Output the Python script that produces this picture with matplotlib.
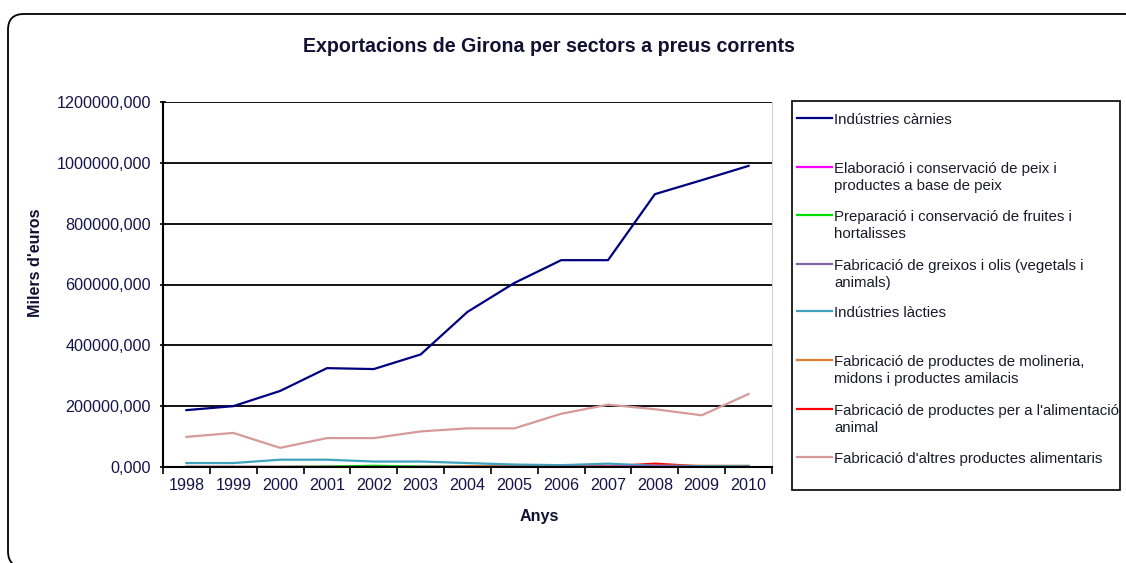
import matplotlib

matplotlib.use("Agg")
import matplotlib.pyplot as plt
from matplotlib.lines import Line2D
from matplotlib.patches import FancyBboxPatch, Rectangle
from matplotlib.ticker import FuncFormatter, FixedLocator

plt.rcParams["font.family"] = ["Liberation Sans", "DejaVu Sans"]

years = ["1998", "1999", "2000", "2001", "2002", "2003", "2004",
         "2005", "2006", "2007", "2008", "2009", "2010"]

carnies = [187000, 200000, 250000, 325000, 322000, 370000, 510000,
           605000, 680000, 680000, 897000, 943000, 990000]
peix = [0, 0, 0, 0, 0, 0, 0, 0, 0, 1000, 1000, 0, 0]
fruites = [0, 0, 0, 1500, 4000, 1500, 0, 0, 0, 0, 0, 0, 0]
greixos = [0, 0, 0, 0, 0, 0, 0, 0, 0, 0, 0, 0, 0]
lactics = [13000, 13000, 24000, 24000, 18000, 18000, 13000,
           8000, 6000, 11000, 4000, 3000, 3000]
molineria = [0, 0, 0, 0, 0, 0, 3000, 4000, 4000, 4000, 4000, 4000, 4000]
animal = [0, 0, 0, 0, 0, 0, 0, 0, 1000, 2000, 11000, 2000, 1000]
altres = [99000, 112000, 63000, 95000, 95000, 117000, 127000,
          127000, 175000, 205000, 190000, 170000, 240000]

series = [
    ("Indústries càrnies", carnies, "#000080"),
    ("Elaboració i conservació de peix i\nproductes a base de peix", peix, "#ff00ff"),
    ("Preparació i conservació de fruites i\nhortalisses", fruites, "#00e000"),
    ("Fabricació de greixos i olis (vegetals i\nanimals)", greixos, "#7f64a6"),
    ("Indústries làcties", lactics, "#3fa3bd"),
    ("Fabricació de productes de molineria,\nmidons i productes amilacis", molineria, "#d98030"),
    ("Fabricació de productes per a l'alimentació\nanimal", animal, "#ff0000"),
    ("Fabricació d'altres productes alimentaris", altres, "#d79a9a"),
]

# legend row positions (figure pixels from top)
legend_rows = [118, 167, 215, 264, 311, 360, 409, 457]

W, H = 1126, 563
TXT = "#111133"
fig = plt.figure(figsize=(W / 100, H / 100), dpi=100)
ax = fig.add_axes([163 / W, 1 - 467 / H, (772 - 163) / W, (467 - 102) / H])

x = list(range(len(years)))
# draw from back to front as in the original
for name, vals, col in reversed(series):
    ax.plot(x, vals, color=col, lw=1.6)

ax.set_xlim(-0.5, len(years) - 0.5)
ax.set_ylim(0, 1200000)
ax.set_yticks(range(0, 1200001, 200000))
ax.yaxis.set_major_formatter(FuncFormatter(lambda v, p: f"{v:.3f}".replace(".", ",")))
ax.grid(axis="y", color="black", lw=1.3)
ax.set_axisbelow(True)

ax.set_xticks(x)
ax.set_xticklabels(years)
ax.xaxis.set_minor_locator(FixedLocator([i - 0.5 for i in range(len(years) + 1)]))
ax.tick_params(axis="x", which="major", length=0, pad=8, labelsize=11.6, labelcolor="#14144a")
ax.tick_params(axis="x", which="minor", length=5, width=1.2, color="black", direction="out")
ax.tick_params(axis="y", length=5, width=1.2, color="black", direction="inout",
               labelsize=11.6, labelcolor="#14144a", pad=6)

for s in ["left", "bottom"]:
    ax.spines[s].set_color("black")
    ax.spines[s].set_linewidth(1.5)
ax.spines["top"].set_visible(False)
ax.spines["right"].set_color("#d0d0ec")

fig.text(539 / W, 1 - 516 / H, "Anys", ha="center", va="center",
         fontsize=11.6, fontweight="bold", color=TXT)
fig.text(35 / W, 1 - 263 / H, "Milers d'euros", rotation=90, ha="center", va="center",
         fontsize=11.6, fontweight="bold", color=TXT)
fig.text(549 / W, 1 - 47 / H, "Exportacions de Girona per sectors a preus corrents",
         ha="center", va="center", fontsize=14.1, fontweight="bold", color=TXT)

# legend box
fig.add_artist(Rectangle((792 / W, 1 - 490 / H), (1120 - 792) / W, (490 - 101) / H,
                         transform=fig.transFigure, fill=False, ec="black", lw=1.2))
for (name, vals, col), yy in zip(series, legend_rows):
    yf = 1 - yy / H
    fig.add_artist(Line2D([797 / W, 832 / W], [yf, yf], color=col, lw=1.6,
                          transform=fig.transFigure))
    fig.text(834 / W, yf + 5 / H, name, ha="left", va="top", fontsize=10.8,
             color="#1a1a2a", linespacing=1.3)

# outer rounded border, running off the right and bottom edges
fig.add_artist(FancyBboxPatch((8 / W, -4 / H), (1160 - 8) / W, (549 + 4) / H,
                              boxstyle="round,pad=0,rounding_size=0.014",
                              mutation_aspect=W / H,
                              transform=fig.transFigure, fill=False, ec="black", lw=1.3))

fig.savefig("out.png", dpi=100)
